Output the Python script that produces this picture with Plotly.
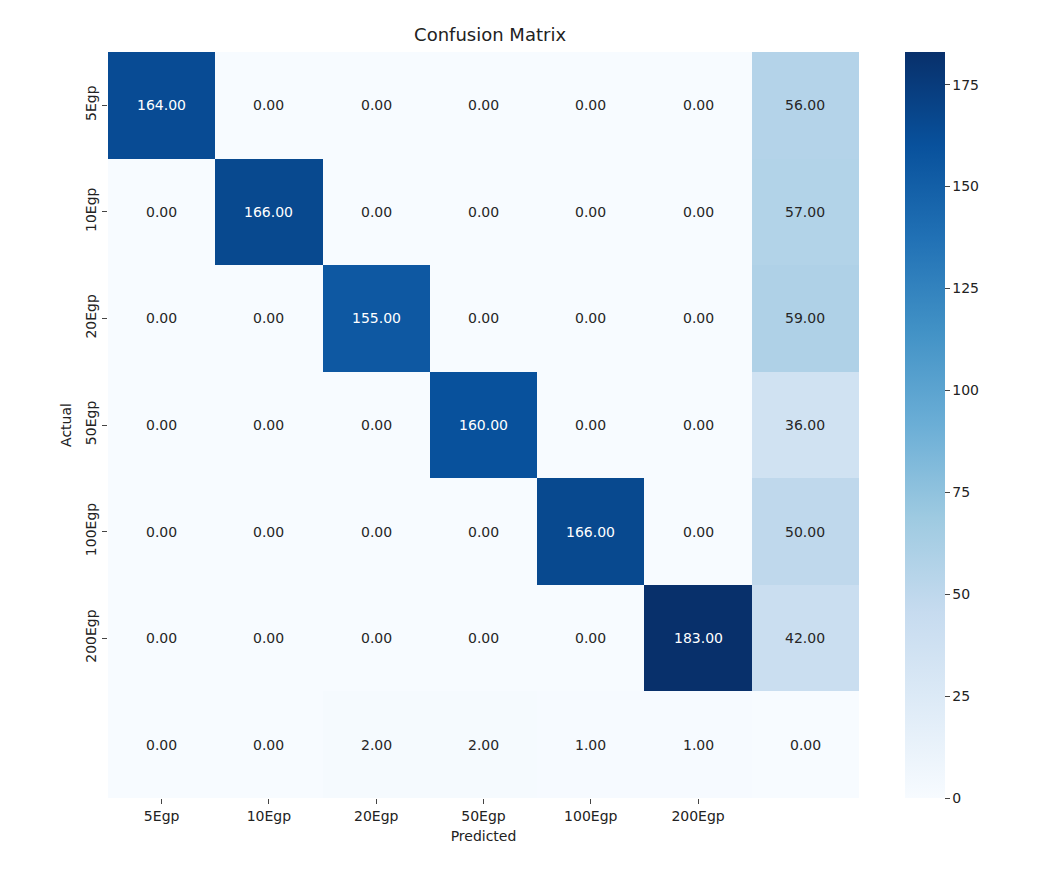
import plotly.graph_objects as go

row_labels = ["5Egp", "10Egp", "20Egp", "50Egp", "100Egp", "200Egp", ""]
col_labels = ["5Egp", "10Egp", "20Egp", "50Egp", "100Egp", "200Egp", ""]
counts = [
    [164, 0, 0, 0, 0, 0, 56],
    [0, 166, 0, 0, 0, 0, 57],
    [0, 0, 155, 0, 0, 0, 59],
    [0, 0, 0, 160, 0, 0, 36],
    [0, 0, 0, 0, 166, 0, 50],
    [0, 0, 0, 0, 0, 183, 42],
    [0, 0, 2, 2, 1, 1, 0],
]

idx = list(range(len(col_labels)))
labelled = [i for i, t in enumerate(col_labels) if t]
zmax = max(max(r) for r in counts)

fig = go.Figure(go.Heatmap(
    z=counts, x=idx, y=idx,
    colorscale="Blues", zmin=0, zmax=zmax,
    colorbar=dict(thickness=40, len=1, y=0.5, x=1.0, xpad=46, ypad=0, outlinewidth=0,
                  tickvals=[0, 25, 50, 75, 100, 125, 150, 175], ticks="outside",
                  ticklen=5, tickfont=dict(size=14, color="#222")),
    hoverinfo="z",
))

for i, row in enumerate(counts):
    for j, v in enumerate(row):
        fig.add_annotation(x=j, y=i, text=f"{v:.2f}", showarrow=False,
                           font=dict(size=14, color="white" if v > zmax * 0.5 else "#262626"))

fig.update_layout(
    width=1048, height=880,
    margin=dict(l=100, r=197, t=44, b=90),
    paper_bgcolor="white", plot_bgcolor="white",
    font=dict(family="DejaVu Sans", color="#222"),
    title=dict(text="Confusion Matrix", x=0.46, xanchor="center", y=0.977, font=dict(size=18)),
)
fig.update_xaxes(tickvals=labelled, ticktext=[col_labels[i] for i in labelled], ticks="outside", ticklen=5,
                 range=[-0.5, 6.5], showgrid=False, zeroline=False, tickfont=dict(size=14),
                 title=dict(text="Predicted", font=dict(size=14), standoff=8))
fig.update_yaxes(tickvals=[i for i, t in enumerate(row_labels) if t],
                 ticktext=[t for t in row_labels if t], ticks="outside", ticklen=5, tickangle=-90,
                 range=[6.5, -0.5], showgrid=False, zeroline=False, tickfont=dict(size=14),
                 title=dict(text="Actual", font=dict(size=14), standoff=8))

fig.write_html("out.html")
